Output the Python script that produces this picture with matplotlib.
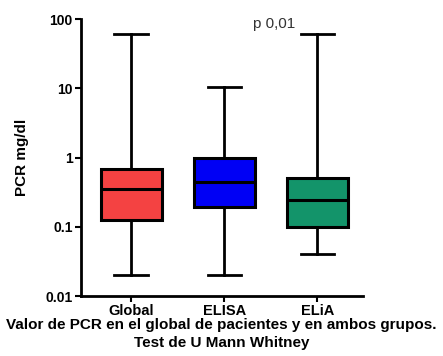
import matplotlib.pyplot as plt

plt.rcParams['font.family'] = ['Liberation Sans', 'DejaVu Sans']

# PCR (mg/dl) summary per group: whisker low, Q1, median, Q3, whisker high
groups = ["Global", "ELISA", "ELiA"]
whislo = [0.02, 0.02, 0.04]
q1 = [0.126, 0.196, 0.10]
med = [0.35, 0.44, 0.245]
q3 = [0.69, 0.97, 0.50]
whishi = [61, 10.3, 61]
colors = ["#F44242", "#0000F5", "#13946A"]

stats = [dict(label=g, whislo=lo, q1=a, med=m, q3=b, whishi=hi)
         for g, lo, a, m, b, hi in zip(groups, whislo, q1, med, q3, whishi)]

fig = plt.figure(figsize=(4.43, 3.56), dpi=100)
ax = fig.add_axes([0.1828, 0.1685, 0.6366, 0.7781])

bp = ax.bxp(stats, positions=[1, 2, 3], widths=0.66, showfliers=False,
            patch_artist=True,
            boxprops=dict(linewidth=2.2, edgecolor="black"),
            medianprops=dict(color="black", linewidth=2.2),
            whiskerprops=dict(color="black", linewidth=2),
            capprops=dict(color="black", linewidth=2),
            capwidths=0.36)
for patch, c in zip(bp["boxes"], colors):
    patch.set_facecolor(c)

ax.set_yscale("log")
ax.set_ylim(0.01, 100)
ax.set_xlim(0.46, 3.49)
ax.set_yticks([0.01, 0.1, 1, 10, 100])
ax.set_yticklabels(["0.01", "0.1", "1", "10", "100"])
ax.minorticks_off()
ax.set_xticks([1, 2, 3])
ax.set_xticklabels(groups)

for s in ["top", "right"]:
    ax.spines[s].set_visible(False)
for s in ["left", "bottom"]:
    ax.spines[s].set_linewidth(2)
ax.tick_params(axis="both", width=1.5, length=4, pad=2)
for lbl in ax.get_yticklabels():
    lbl.set_fontweight("bold")
    lbl.set_fontsize(10)
for lbl in ax.get_xticklabels():
    lbl.set_fontweight("bold")
    lbl.set_fontsize(10.5)

ax.set_ylabel("PCR mg/dl", fontsize=11, fontweight="bold", labelpad=12)

ax.text(2.54, 85, "p 0,01", fontsize=11, color="#333333",
        ha="center", va="center")

fig.text(0.5, 0.087, "Valor de PCR en el global de pacientes y en ambos grupos.",
         ha="center", va="center", fontsize=11, fontweight="bold")
fig.text(0.5, 0.037, "Test de U Mann Whitney",
         ha="center", va="center", fontsize=11, fontweight="bold")

fig.savefig("out.png", dpi=100)
